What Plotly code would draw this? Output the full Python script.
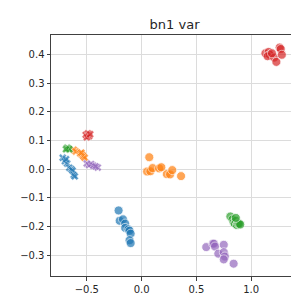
import plotly.graph_objects as go

colors = ["#1f77b4", "#ff7f0e", "#2ca02c", "#d62728", "#9467bd"]

# circles (per class)
circ_blue_x = [-0.21, -0.20, -0.17, -0.15, -0.15, -0.12, -0.11, -0.10, -0.11, -0.10]
circ_blue_y = [-0.144, -0.180, -0.175, -0.190, -0.205, -0.210, -0.215, -0.225, -0.248, -0.258]
circ_orange_x = [0.07, 0.05, 0.08, 0.10, 0.16, 0.18, 0.23, 0.26, 0.28, 0.36]
circ_orange_y = [0.042, -0.008, -0.007, 0.004, 0.003, 0.007, -0.017, -0.018, -0.003, -0.024]
circ_green_x = [0.81, 0.83, 0.84, 0.85, 0.86, 0.87, 0.88, 0.89, 0.90, 0.86]
circ_green_y = [-0.165, -0.175, -0.185, -0.190, -0.180, -0.195, -0.190, -0.190, -0.193, -0.170]
circ_red_x = [1.13, 1.16, 1.17, 1.15, 1.21, 1.23, 1.26, 1.27, 1.28, 1.19]
circ_red_y = [0.405, 0.410, 0.400, 0.395, 0.390, 0.375, 0.425, 0.420, 0.400, 0.405]
circ_purple_x = [0.59, 0.65, 0.66, 0.67, 0.70, 0.75, 0.75, 0.76, 0.75, 0.84]
circ_purple_y = [-0.272, -0.260, -0.260, -0.270, -0.295, -0.264, -0.290, -0.305, -0.315, -0.330]

# x markers (per class)
x_blue_x = [-0.72, -0.70, -0.68, -0.66, -0.64, -0.63, -0.62, -0.61, -0.69]
x_blue_y = [0.040, 0.028, 0.020, 0.005, 0.000, -0.005, -0.020, -0.025, 0.035]
x_orange_x = [-0.62, -0.60, -0.56, -0.54, -0.53, -0.52, -0.55]
x_orange_y = [0.068, 0.062, 0.055, 0.050, 0.045, 0.040, 0.058]
x_green_x = [-0.68, -0.67, -0.66, -0.69]
x_green_y = [0.075, 0.072, 0.070, 0.070]
x_red_x = [-0.51, -0.49, -0.48, -0.50, -0.47]
x_red_y = [0.120, 0.125, 0.115, 0.112, 0.122]
x_purple_x = [-0.50, -0.48, -0.46, -0.44, -0.40, -0.42]
x_purple_y = [0.020, 0.015, 0.018, 0.012, 0.006, 0.010]

x_ticks = [-0.5, 0.0, 0.5, 1.0]
y_ticks = [-0.3, -0.2, -0.1, 0.0, 0.1, 0.2, 0.3, 0.4]

fig = go.Figure()
circ = [(circ_blue_x, circ_blue_y), (circ_orange_x, circ_orange_y), (circ_green_x, circ_green_y),
        (circ_red_x, circ_red_y), (circ_purple_x, circ_purple_y)]
xs = [(x_blue_x, x_blue_y), (x_orange_x, x_orange_y), (x_green_x, x_green_y),
      (x_red_x, x_red_y), (x_purple_x, x_purple_y)]
for c, (px, py) in zip(colors, circ):
    fig.add_trace(go.Scatter(x=px, y=py, mode="markers",
                             marker=dict(size=9, color=c, opacity=0.7, line=dict(color="white", width=0.8)),
                             showlegend=False))
for c, (px, py) in zip(colors, xs):
    fig.add_trace(go.Scatter(x=px, y=py, mode="markers",
                             marker=dict(size=7, color=c, symbol="x", opacity=0.7, line=dict(color="white", width=0.5)),
                             showlegend=False))

axis_common = dict(showgrid=True, gridcolor="#dcdcdc", gridwidth=1, zeroline=False,
                   showline=True, linecolor="#404040", linewidth=1, mirror=True,
                   ticks="outside", ticklen=3.5, tickcolor="#404040",
                   tickfont=dict(family="DejaVu Sans", size=10, color="#262626"))
fig.update_layout(
    width=299, height=299,
    margin=dict(l=43, r=12, t=27, b=29),
    plot_bgcolor="white", paper_bgcolor="white",
    title=dict(text="bn1 var", x=0.557, xanchor="center", y=0.945, yanchor="middle",
               font=dict(family="DejaVu Sans", size=13, color="#262626")),
    xaxis=dict(range=[-0.827, 1.391], tickvals=x_ticks, ticktext=["−0.5", "0.0", "0.5", "1.0"], **axis_common),
    yaxis=dict(range=[-0.373, 0.469], tickvals=y_ticks,
               ticktext=["−0.3", "−0.2", "−0.1", "0.0", "0.1", "0.2", "0.3", "0.4"], **axis_common),
)
fig.write_html("out.html")
